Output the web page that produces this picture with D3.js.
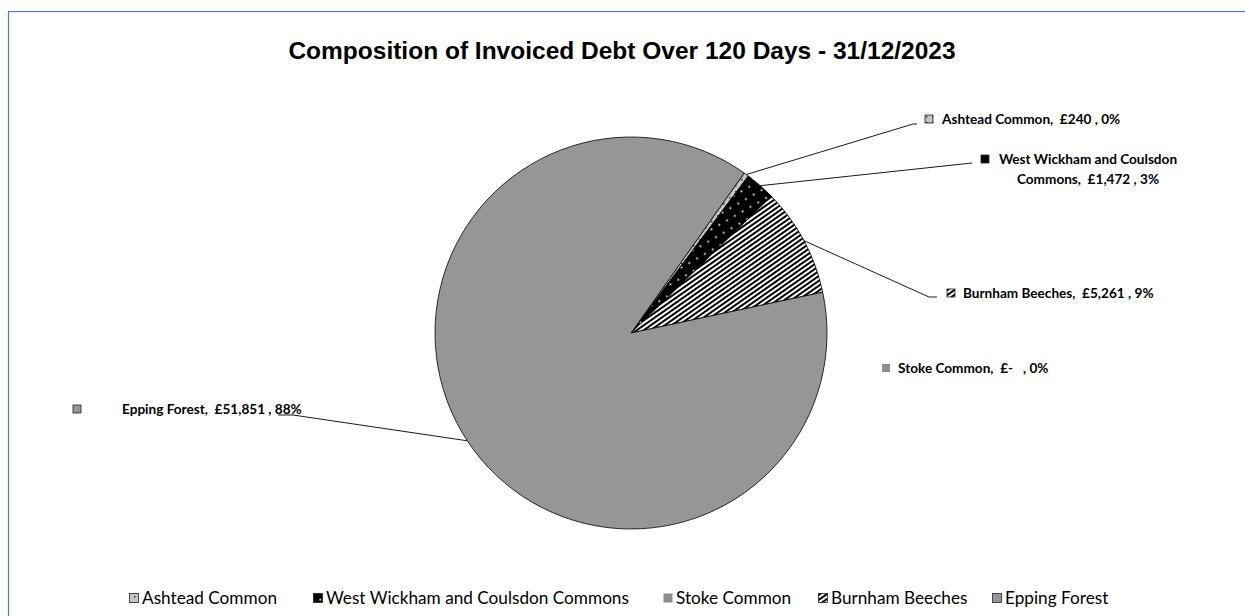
<!DOCTYPE html>
<html>
<head>
<meta charset="utf-8">
<script src="https://cdn.jsdelivr.net/npm/d3@7.9.0/dist/d3.min.js"></script>
<style>
  body { margin: 0; background: #fff; }
  svg { display: block; }
  text { white-space: pre; }
</style>
</head>
<body>
<svg width="1245" height="616"></svg>
<script>
const categories = ['Ashtead Common', 'West Wickham and Coulsdon Commons', 'Stoke Common', 'Burnham Beeches', 'Epping Forest'];
const values = [240, 1472, 0, 5261, 51851];
const valueLabels = ['£240', '£1,472', '£-  ', '£5,261', '£51,851'];
const pctLabels = ['0%', '3%', '0%', '9%', '88%'];

const fills = ['url(#pAshtead)', 'url(#pWest)', '#8c8c8c', 'url(#pBurnham)', '#969696'];

let svg = d3.select('svg');

// chart border (only top and left show in the crop)
svg.append('rect')
  .attr('x', 8.5).attr('y', 11.5)
  .attr('width', 1300).attr('height', 700)
  .attr('fill', 'none')
  .attr('stroke', '#4a7ebb')
  .attr('stroke-width', 1.2);

// patterns
let defs = svg.append('defs');
let pa = defs.append('pattern').attr('id', 'pAshtead')
  .attr('patternUnits', 'userSpaceOnUse').attr('width', 6).attr('height', 6);
pa.append('rect').attr('width', 6).attr('height', 6).attr('fill', '#c4c4c4');
pa.append('rect').attr('x', 2).attr('y', 2).attr('width', 1.5).attr('height', 1.5).attr('fill', '#333');

let pw = defs.append('pattern').attr('id', 'pWest')
  .attr('patternUnits', 'userSpaceOnUse').attr('width', 9).attr('height', 9)
  .attr('patternTransform', 'rotate(-30)');
pw.append('rect').attr('width', 9).attr('height', 9).attr('fill', '#000');
pw.append('circle').attr('cx', 4.5).attr('cy', 4.5).attr('r', 1).attr('fill', '#fff');

let pb = defs.append('pattern').attr('id', 'pBurnham')
  .attr('patternUnits', 'userSpaceOnUse').attr('width', 4).attr('height', 4)
  .attr('patternTransform', 'rotate(-35)');
pb.append('rect').attr('width', 4).attr('height', 4).attr('fill', '#fff');
pb.append('rect').attr('width', 4).attr('height', 2).attr('fill', '#000');

// title
svg.append('text')
  .attr('x', 622).attr('y', 59)
  .attr('text-anchor', 'middle')
  .style('font-family', '"Liberation Sans", Arial, sans-serif')
  .style('font-weight', 'bold')
  .style('font-size', '24.5px')
  .text('Composition of Invoiced Debt Over 120 Days - 31/12/2023');

// pie
const cx = 631, cy = 333, r = 196;
const start = 35.3 * Math.PI / 180;
let data = categories.map((c, i) => ({ label: c, value: values[i], idx: i }));
let pie = d3.pie().sort(null).value(d => d.value).startAngle(start).endAngle(start + 2 * Math.PI);
let arcData = pie(data);
let arcGen = d3.arc().innerRadius(0).outerRadius(r);

let g = svg.append('g').attr('transform', `translate(${cx},${cy})`);
arcData.forEach(d => {
  if (d.value === 0) return;
  g.append('path')
    .attr('d', arcGen(d))
    .attr('fill', fills[d.data.idx])
    .attr('stroke', '#000')
    .attr('stroke-width', 0.8);
});

// data labels (same order as categories)
const labelFont = 'Lato, "Open Sans", sans-serif';
const labelPos = [
  { mx: 929, my: 119, tx: 942, anchor: 'start', leader: [[917, 124], [913, 124]] },
  { mx: 985, my: 159, tx: 1088, anchor: 'middle', leader: [[972, 163]] },
  { mx: 886, my: 368, tx: 898, anchor: 'start', leader: null },
  { mx: 951, my: 293, tx: 963, anchor: 'start', leader: [[937, 297], [929, 297]] },
  { mx: 77, my: 409, tx: 122, anchor: 'start', leader: [[278, 415], [293, 415]] }
];

arcData.forEach(d => {
  let i = d.data.idx;
  let p = labelPos[i];
  let mid = (d.startAngle + d.endAngle) / 2;
  let ex = cx + r * Math.sin(mid), ey = cy - r * Math.cos(mid);

  if (p.leader) {
    let pts = p.leader.slice();
    pts.push([ex, ey]);
    svg.append('path')
      .attr('d', d3.line()(pts))
      .attr('fill', 'none')
      .attr('stroke', '#000')
      .attr('stroke-width', 0.9);
  }

  svg.append('rect')
    .attr('x', p.mx - 4).attr('y', p.my - 4)
    .attr('width', 8).attr('height', 8)
    .attr('fill', fills[i])
    .attr('stroke', i === 2 ? 'none' : '#222')
    .attr('stroke-width', 0.8);

  let t = svg.append('text')
    .style('font-family', labelFont)
    .style('font-weight', 'bold')
    .style('font-size', '13.6px')
    .attr('text-anchor', p.anchor);
  if (i === 1) {
    t.append('tspan').attr('x', p.tx).attr('y', p.my + 5).text('West Wickham and Coulsdon');
    t.append('tspan').attr('x', p.tx).attr('y', p.my + 25).text(`Commons,  ${valueLabels[i]} , ${pctLabels[i]}`);
  } else {
    t.attr('x', p.tx).attr('y', p.my + 5).text(`${d.data.label},  ${valueLabels[i]} , ${pctLabels[i]}`);
  }
});

// legend
const legendX = [134, 318, 668, 823, 997];
let legend = svg.append('g');
categories.forEach((c, i) => {
  legend.append('rect')
    .attr('x', legendX[i] - 4.5).attr('y', 593.5)
    .attr('width', 9).attr('height', 9)
    .attr('fill', fills[i])
    .attr('stroke', i === 2 ? 'none' : '#222')
    .attr('stroke-width', 0.8);
  legend.append('text')
    .attr('x', legendX[i] + 8).attr('y', 604)
    .style('font-family', labelFont)
    .style('font-size', '17.2px')
    .text(c);
});
</script>
</body>
</html>
